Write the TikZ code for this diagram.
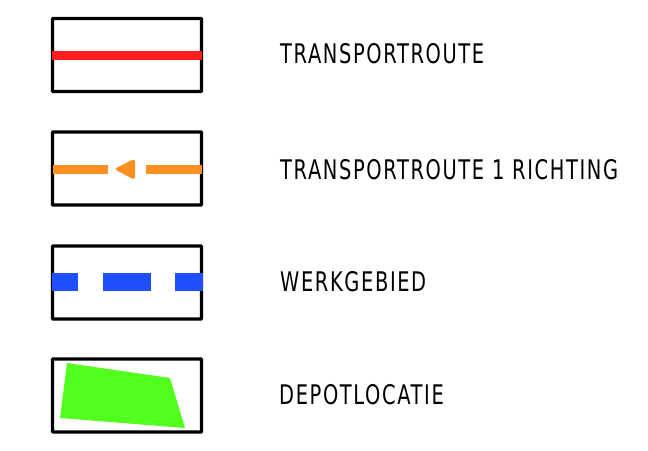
\documentclass[tikz,border=0pt]{standalone}
\usepackage{fontspec}
\setmainfont[FakeStretch=0.72,LetterSpace=6]{DejaVu Sans}
\usetikzlibrary{positioning}
\definecolor{routered}{RGB}{255,28,28}
\definecolor{routeorange}{RGB}{255,143,30}
\definecolor{werkblue}{RGB}{30,80,255}
\definecolor{depotgreen}{RGB}{82,255,30}

\begin{document}
\begin{tikzpicture}[x=1pt,y=-1pt,font=\fontsize{27}{29}\selectfont,
  legendbox/.style={draw=black,line width=3.3pt,rounded corners=0.8pt,minimum width=149pt,minimum height=73pt,inner sep=0pt,fill=white},
  legendtext/.style={anchor=west,inner sep=0pt}]
\useasboundingbox (0,0) rectangle (648,450);
\node[legendbox] (route) at (127,55) {};
\node[legendbox] (oneway) at (127,168.5) {};
\node[legendbox] (werk) at (127,282.5) {};
\node[legendbox] (depot) at (127,395.5) {};
\node[legendtext] (routetxt) at (280,54) {TRANSPORTROUTE};
\node[legendtext] (onewaytxt) at (280,170) {TRANSPORTROUTE 1 RICHTING};
\node[legendtext] (werktxt) at (280,281.5) {WERKGEBIED};
\node[legendtext] (depottxt) at (279,395) {DEPOTLOCATIE};
\fill[routered] (52,51) rectangle (202,60);
\fill[routeorange] (53,164.5) rectangle (108,173.5);
\fill[routeorange] (146,164.5) rectangle (202,173.5);
\fill[routeorange,rounded corners=3pt] (114,169)--(135,158.5)--(135,180)--cycle;
\fill[werkblue] (52,273) rectangle (78,291);
\fill[werkblue] (103,273) rectangle (150.5,291);
\fill[werkblue] (175,273) rectangle (203,291);
\fill[depotgreen] (67,363)--(170,378)--(185,428)--(60,418)--cycle;
\end{tikzpicture}
\end{document}
